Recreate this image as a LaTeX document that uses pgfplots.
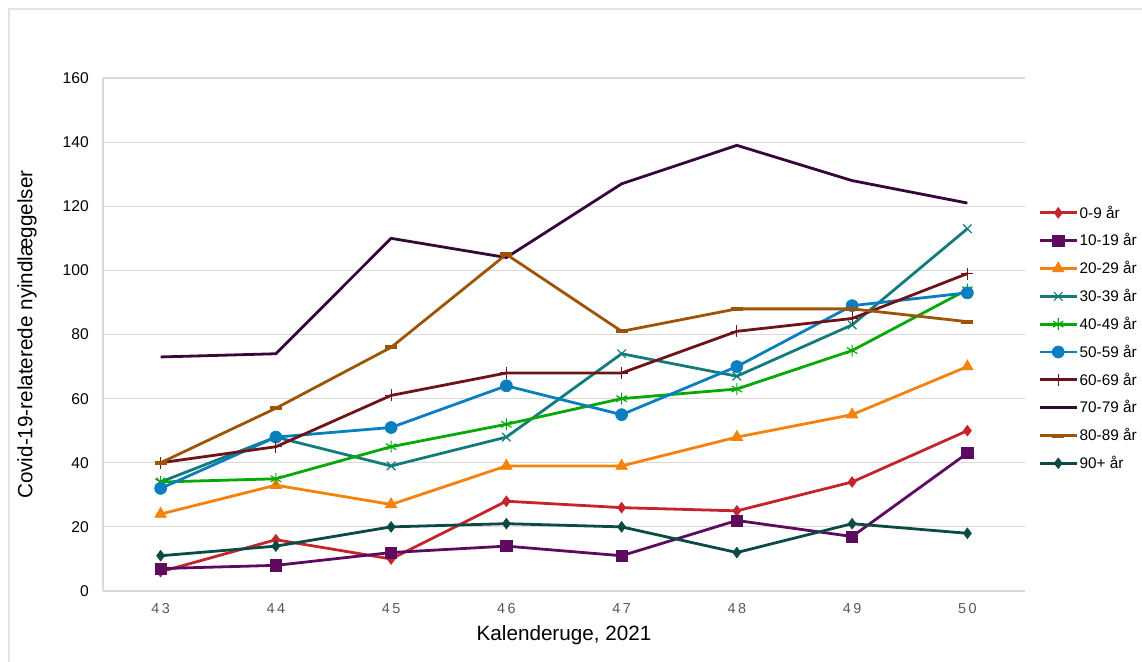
\documentclass[border=0pt]{standalone}
\usepackage{pgfplots}
\pgfplotsset{compat=1.18}
\usepackage{fontspec}
\setmainfont{Liberation Sans}
\newfontfamily\spaced[LetterSpace=18]{Liberation Sans}
\definecolor{gridgray}{HTML}{D9D9D9}
\definecolor{framegray}{HTML}{E3E3E3}
\definecolor{ticklab}{HTML}{595959}
\definecolor{ca}{HTML}{C4242B}
\definecolor{cb}{HTML}{5C0B5F}
\definecolor{cc}{HTML}{F5820D}
\definecolor{cd}{HTML}{137C7A}
\definecolor{ce}{HTML}{08A808}
\definecolor{cf}{HTML}{0A7FBF}
\definecolor{cg}{HTML}{6E1418}
\definecolor{ch}{HTML}{35073A}
\definecolor{ci}{HTML}{9C5406}
\definecolor{cj}{HTML}{0C4A46}
\begin{document}
\begin{tikzpicture}
\useasboundingbox (0,0) rectangle (856.5pt,-495.75pt);
\draw[framegray, line width=1.2pt] (6.75pt,-6.75pt) rectangle (880pt,-520pt);
\begin{axis}[
  at={(77.25pt,-443.25pt)}, anchor=south west,
  scale only axis, width=691.5pt, height=384.75pt,
  xmin=42.5, xmax=50.5, ymin=0, ymax=160,
  xtick={43,44,45,46,47,48,49,50},
  xticklabels={43,44,45,46,47,48,49,50},
  ytick={0,20,40,60,80,100,120,140,160},
  /pgf/number format/assume math mode=true,
  major tick length=0pt,
  ymajorgrids, grid style={gridgray, line width=0.9pt},
  axis x line*=bottom, axis y line*=left,
  axis line style={gridgray, line width=0.9pt, -},
  yticklabel style={font=\fontsize{11.7}{14}\selectfont, inner sep=0pt, anchor=east, xshift=-10.5pt},
  xticklabel style={font=\spaced\fontsize{10.8}{12}\selectfont, text=ticklab, inner sep=0pt, anchor=north, yshift=-9pt},
  xlabel={Kalenderuge, 2021},
  ylabel={Covid-19-relaterede nyindlæggelser},
  every axis x label/.style={at={(axis description cs:0.5,-0.0858)}, anchor=center, font=\fontsize{15.5}{18}\selectfont},
  every axis y label/.style={at={(axis description cs:-0.0824,0.5)}, rotate=90, anchor=center, font=\fontsize{15.5}{18}\selectfont},
  legend style={at={(1.014,0.493)}, anchor=west, draw=none, fill=none,
    font=\fontsize{11.5}{13}\selectfont, row sep=8.1pt, inner sep=0pt,
    nodes={inner sep=1pt}},
  legend cell align=left,
  legend image code/.code={\draw[mark repeat=2,mark phase=2] plot coordinates {(0pt,0pt)(14pt,0pt)(28pt,0pt)};},
  every axis plot/.append style={line width=2.1pt, mark options={solid}},
]
\addplot[ca, mark=diamond*, mark size=4pt, mark options={fill=ca, line width=0.5pt}] coordinates {(43,6)(44,16)(45,10)(46,28)(47,26)(48,25)(49,34)(50,50)};
\addlegendentry{0-9 år}
\addplot[cb, mark=square*, mark size=4.2pt, mark options={fill=cb, line width=0.5pt}] coordinates {(43,7)(44,8)(45,12)(46,14)(47,11)(48,22)(49,17)(50,43)};
\addlegendentry{10-19 år}
\addplot[cc, mark=triangle*, mark size=5pt, mark options={fill=cc, line width=0.5pt}] coordinates {(43,24)(44,33)(45,27)(46,39)(47,39)(48,48)(49,55)(50,70)};
\addlegendentry{20-29 år}
\addplot[cd, mark=x, mark size=4.5pt, mark options={line width=0.9pt}] coordinates {(43,34)(44,48)(45,39)(46,48)(47,74)(48,67)(49,83)(50,113)};
\addlegendentry{30-39 år}
\addplot[ce, mark=asterisk, mark size=4.5pt, mark options={line width=0.9pt}] coordinates {(43,34)(44,35)(45,45)(46,52)(47,60)(48,63)(49,75)(50,94)};
\addlegendentry{40-49 år}
\addplot[cf, mark=*, mark size=4.5pt, mark options={fill=cf, line width=0.5pt}] coordinates {(43,32)(44,48)(45,51)(46,64)(47,55)(48,70)(49,89)(50,93)};
\addlegendentry{50-59 år}
\addplot[cg, mark=+, mark size=4.5pt, mark options={line width=0.9pt}] coordinates {(43,40)(44,45)(45,61)(46,68)(47,68)(48,81)(49,85)(50,99)};
\addlegendentry{60-69 år}
\addplot[ch, mark=none] coordinates {(43,73)(44,74)(45,110)(46,104)(47,127)(48,139)(49,128)(50,121)};
\addlegendentry{70-79 år}
\addplot[ci, mark=-, mark size=4.5pt, mark options={line width=3pt}] coordinates {(43,40)(44,57)(45,76)(46,105)(47,81)(48,88)(49,88)(50,84)};
\addlegendentry{80-89 år}
\addplot[cj, mark=diamond*, mark size=4pt, mark options={fill=cj, line width=0.5pt}] coordinates {(43,11)(44,14)(45,20)(46,21)(47,20)(48,12)(49,21)(50,18)};
\addlegendentry{90+ år}
\end{axis}
\end{tikzpicture}
\end{document}
